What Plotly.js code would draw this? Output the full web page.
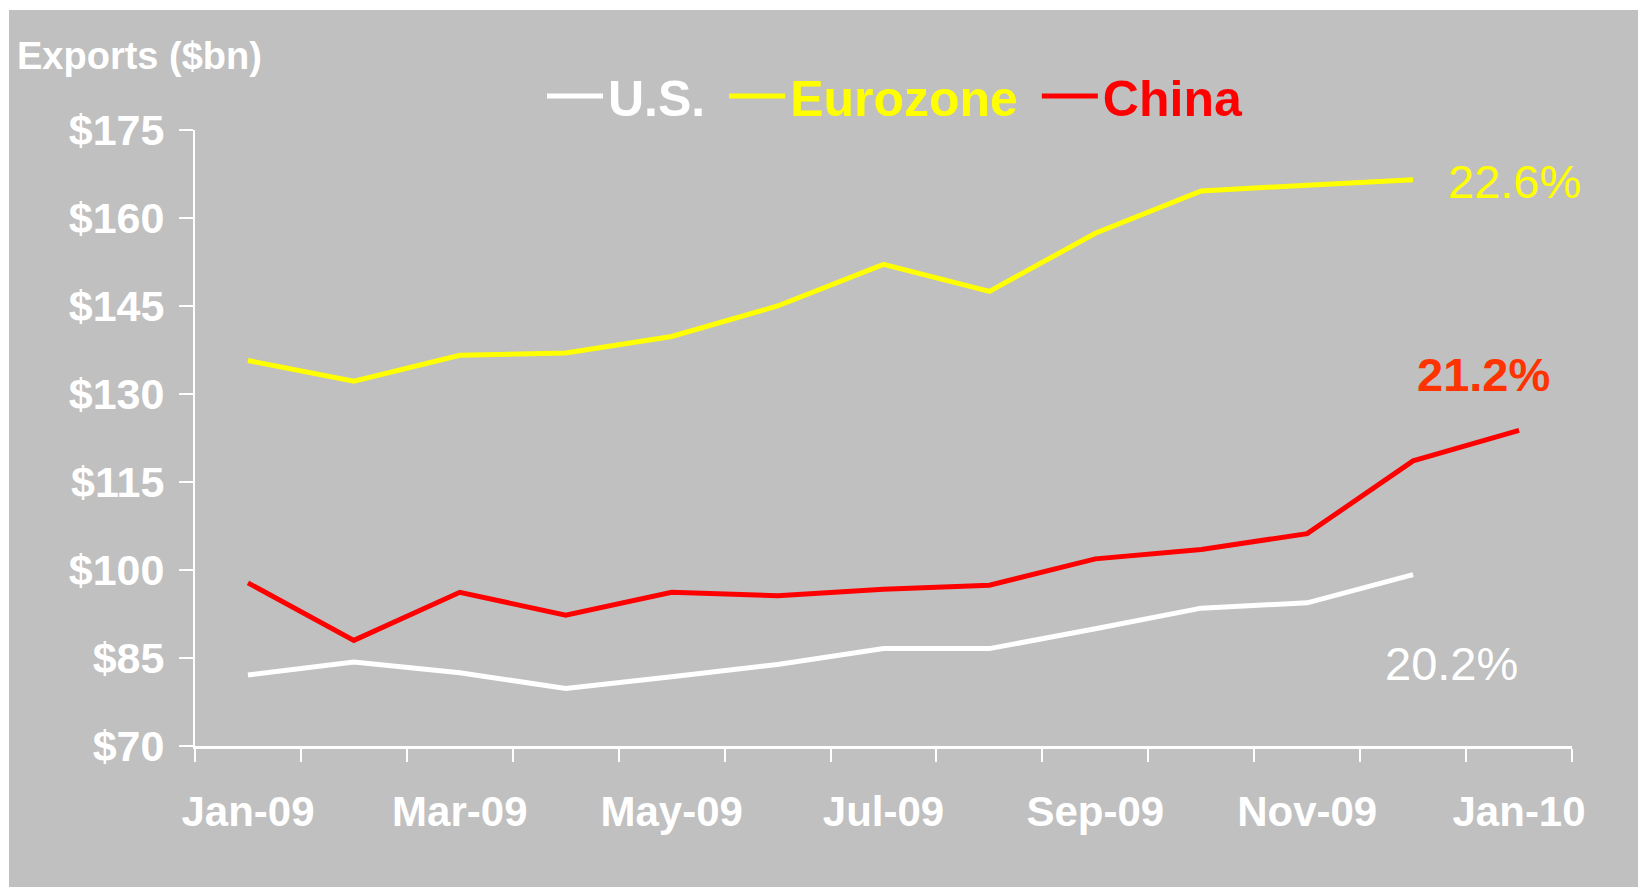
<!DOCTYPE html>
<html>
<head>
<meta charset="utf-8">
<script src="https://cdn.plot.ly/plotly-3.0.1.min.js"></script>
<style>
  html, body { margin: 0; padding: 0; background: #ffffff; width: 1638px; height: 887px; overflow: hidden; }
  #chart { position: absolute; left: 9px; top: 10px; width: 1629px; height: 877px; }
</style>
</head>
<body>
<div id="chart"></div>
<script>
const months = ['Jan-09','Feb-09','Mar-09','Apr-09','May-09','Jun-09','Jul-09','Aug-09','Sep-09','Oct-09','Nov-09','Dec-09','Jan-10'];
const monthLabels = ['Jan-09','','Mar-09','','May-09','','Jul-09','','Sep-09','','Nov-09','','Jan-10'];

const usValues       = [82.1, 84.3, 82.5, 79.8, 81.8, 83.9, 86.6, 86.6, 90.0, 93.5, 94.4, 99.2, null];
const eurozoneValues = [135.7, 132.2, 136.6, 137.0, 139.8, 145.0, 152.1, 147.5, 157.4, 164.6, 165.6, 166.5, null];
const chinaValues    = [97.8, 88.0, 96.2, 92.3, 96.2, 95.6, 96.7, 97.4, 101.9, 103.5, 106.2, 118.6, 123.8];

const yTicks = [70, 85, 100, 115, 130, 145, 160, 175];
const yTickLabels = ['$70','$85','$100','$115','$130','$145','$160','$175'];

const seriesNames = ['U.S.', 'Eurozone', 'China'];
const growthLabels = ['20.2%', '22.6%', '21.2%'];

const FONT = 'Arial, "Liberation Sans", sans-serif';

const traces = [
  { x: months, y: usValues, type: 'scatter', mode: 'lines',
    name: seriesNames[0] + '&nbsp;',
    line: { color: '#FFFFFF', width: 5 }, connectgaps: false },
  { x: months, y: eurozoneValues, type: 'scatter', mode: 'lines',
    name: '<span style="color:#FFFF00">' + seriesNames[1] + '</span>&nbsp;',
    line: { color: '#FFFF00', width: 5 }, connectgaps: false },
  { x: months, y: chinaValues, type: 'scatter', mode: 'lines',
    name: '<span style="color:#FF0000">' + seriesNames[2] + '</span>',
    line: { color: '#FF0000', width: 5 } }
];

const layout = {
  width: 1629, height: 877,
  paper_bgcolor: '#C0C0C0',
  plot_bgcolor: '#C0C0C0',
  margin: { l: 186, r: 66, t: 120, b: 141, autoexpand: false },
  font: { family: FONT, color: '#FFFFFF' },
  title: {
    text: '<b>Exports ($bn)</b>',
    font: { family: FONT, size: 38, color: '#FFFFFF' },
    xref: 'container', yref: 'container',
    x: 8/1629, xanchor: 'left',
    y: 1 - 46/877, yanchor: 'middle'
  },
  showlegend: true,
  legend: {
    orientation: 'h',
    xref: 'container', yref: 'container',
    x: 533/1629, xanchor: 'left',
    y: 1 - 86/877, yanchor: 'middle',
    bgcolor: 'rgba(0,0,0,0)',
    font: { family: FONT, size: 50, color: '#FFFFFF', weight: 'bold' },
    itemwidth: 56,
    traceorder: 'normal'
  },
  xaxis: {
    type: 'category',
    categoryorder: 'array', categoryarray: months,
    range: [-0.5, 12.5],
    tickmode: 'array', tickvals: months, ticktext: monthLabels,
    tickson: 'boundaries',
    tickangle: 0,
    ticks: 'outside', ticklen: 13, tickwidth: 2, tickcolor: '#FFFFFF',
    showline: true, linecolor: '#FFFFFF', linewidth: 3,
    showgrid: false, zeroline: false,
    tickfont: { family: FONT, size: 42, color: '#FFFFFF', weight: 'bold' },
    ticklabelstandoff: 27,
    automargin: false,
    fixedrange: true
  },
  yaxis: {
    range: [70, 175],
    tickmode: 'array', tickvals: yTicks, ticktext: yTickLabels,
    ticks: 'outside', ticklen: 14, tickwidth: 2, tickcolor: '#FFFFFF',
    showline: true, linecolor: '#FFFFFF', linewidth: 2,
    showgrid: false, zeroline: false,
    tickfont: { family: FONT, size: 43, color: '#FFFFFF', weight: 'bold' },
    ticklabelstandoff: 6,
    automargin: false,
    fixedrange: true
  },
  annotations: [
    { x: 11.36, y: 84.1, xref: 'x', yref: 'y', text: growthLabels[0], showarrow: false,
      font: { family: FONT, size: 47, color: '#FFFFFF' }, xanchor: 'center', yanchor: 'middle' },
    { x: 11.96, y: 166.3, xref: 'x', yref: 'y', text: growthLabels[1], showarrow: false,
      font: { family: FONT, size: 47, color: '#FFFF00' }, xanchor: 'center', yanchor: 'middle' },
    { x: 11.66, y: 133.4, xref: 'x', yref: 'y', text: '<b>' + growthLabels[2] + '</b>', showarrow: false,
      font: { family: FONT, size: 47, color: '#FF3300' }, xanchor: 'center', yanchor: 'middle' }
  ]
};

Plotly.newPlot('chart', traces, layout, { displayModeBar: false, staticPlot: true });
</script>
</body>
</html>
